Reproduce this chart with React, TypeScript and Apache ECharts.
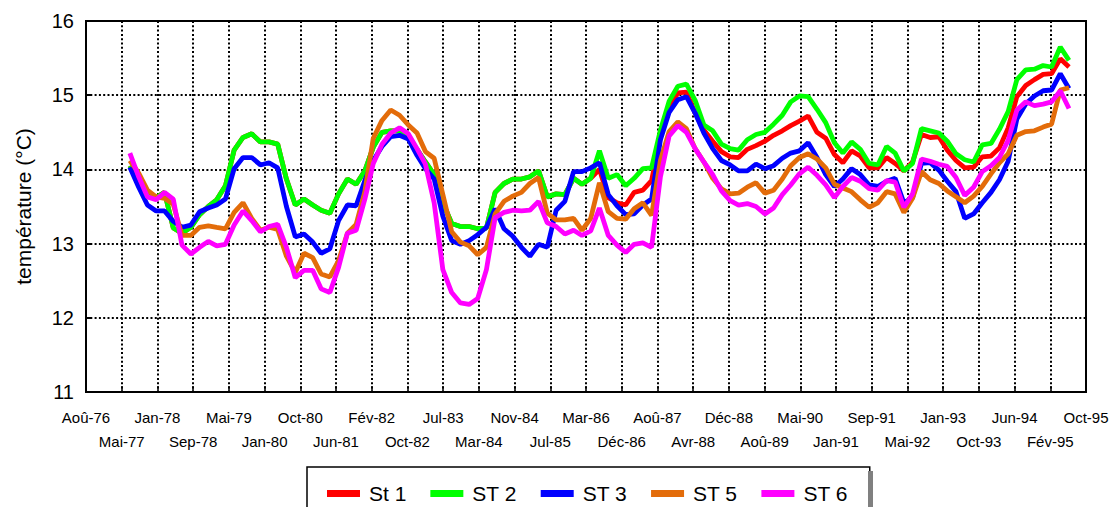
import React, { useEffect, useRef } from 'react';
import * as echarts from 'echarts';

// X axis: Excel date serials, one tick every 250 days from 28000 (28 Aug 1976)
const X_TICK_LABELS = [
  'Aoû-76', 'Mai-77', 'Jan-78', 'Sep-78', 'Mai-79', 'Jan-80', 'Oct-80', 'Jun-81',
  'Fév-82', 'Oct-82', 'Jul-83', 'Mar-84', 'Nov-84', 'Jul-85', 'Mar-86', 'Déc-86',
  'Aoû-87', 'Avr-88', 'Déc-88', 'Aoû-89', 'Mai-90', 'Jan-91', 'Sep-91', 'Mai-92',
  'Jan-93', 'Oct-93', 'Jun-94', 'Fév-95', 'Oct-95',
];
const X_MIN = 28000;
const X_INTERVAL = 250;
const X_MAX = 35000;
const Y_MIN = 11;
const Y_MAX = 16;
const Y_INTERVAL = 1;

// Samples every 2 months, starting July 1977
const START_YEAR = 1977;
const START_MONTH = 7;
const STEP_MONTHS = 2;

const SERIES_NAMES = ['St 1', 'ST 2', 'ST 3', 'ST 5', 'ST 6'];
const SERIES_COLORS = ['#FF0000', '#00FF00', '#0000FF', '#E36C0A', '#FF00FF'];

const ST2 = [
  14.05, 13.85, 13.66, 13.62, 13.69, 13.21, 13.14, 13.22, 13.39, 13.50,
  13.59, 13.78, 14.26, 14.43, 14.48, 14.37, 14.37, 14.34, 13.87, 13.52,
  13.60, 13.52, 13.45, 13.41, 13.67, 13.87, 13.80, 13.98, 14.30, 14.50,
  14.52, 14.52, 14.44, 14.27, 14.10, 13.93, 13.55, 13.27, 13.23, 13.23,
  13.20, 13.21, 13.69, 13.81, 13.87, 13.87, 13.90, 13.98, 13.63, 13.67,
  13.66, 13.88, 13.80, 13.88, 14.25, 13.88, 13.93, 13.78, 13.88, 14.01,
  14.02, 14.53, 14.92, 15.12, 15.15, 14.93, 14.60, 14.52, 14.34, 14.28,
  14.26, 14.40, 14.47, 14.50, 14.61, 14.73, 14.91, 14.99, 14.98, 14.81,
  14.63, 14.36, 14.22, 14.37, 14.27, 14.08, 14.06, 14.31, 14.22, 13.98,
  14.08, 14.55, 14.52, 14.49, 14.38, 14.21, 14.13, 14.10, 14.33, 14.35,
  14.54, 14.78, 15.21, 15.34, 15.35, 15.40, 15.38, 15.65, 15.47,
];

const ST1 = [
  14.05, 13.85, 13.66, 13.62, 13.69, 13.21, 13.14, 13.22, 13.39, 13.50,
  13.59, 13.78, 14.26, 14.43, 14.48, 14.37, 14.37, 14.34, 13.87, 13.52,
  13.60, 13.52, 13.45, 13.41, 13.67, 13.87, 13.80, 13.98, 14.30, 14.50,
  14.52, 14.52, 14.44, 14.27, 14.10, 13.93, 13.55, 13.27, 13.23, 13.23,
  13.20, 13.21, 13.69, 13.81, 13.87, 13.87, 13.90, 13.98, 13.63, 13.67,
  13.66, 13.88, 13.80, 13.88, 14.00, 13.62, 13.55, 13.52, 13.69, 13.72,
  13.85, 14.43, 14.83, 15.03, 15.04, 14.76, 14.53, 14.38, 14.24, 14.17,
  14.16, 14.27, 14.32, 14.38, 14.46, 14.52, 14.59, 14.65, 14.72, 14.50,
  14.42, 14.20, 14.09, 14.25, 14.18, 14.02, 14.02, 14.16, 14.08, 13.98,
  14.10, 14.47, 14.43, 14.44, 14.26, 14.12, 14.02, 14.03, 14.17, 14.18,
  14.29, 14.56, 14.98, 15.13, 15.21, 15.28, 15.29, 15.49, 15.38,
];

const ST3 = [
  14.03, 13.76, 13.52, 13.44, 13.44, 13.30, 13.22, 13.25, 13.43, 13.48,
  13.52, 13.60, 14.01, 14.16, 14.16, 14.06, 14.09, 14.02, 13.50, 13.09,
  13.13, 13.02, 12.87, 12.93, 13.31, 13.52, 13.51, 13.85, 14.12, 14.31,
  14.44, 14.46, 14.41, 14.19, 14.01, 13.87, 13.37, 13.04, 12.99, 13.04,
  13.12, 13.22, 13.47, 13.20, 13.10, 12.95, 12.83, 12.99, 12.95, 13.45,
  13.57, 13.97, 13.97, 14.02, 14.09, 13.66, 13.51, 13.39, 13.40, 13.52,
  13.60, 14.40, 14.77, 14.94, 14.98, 14.76, 14.49, 14.28, 14.12, 14.06,
  13.98, 13.98, 14.07, 14.01, 14.05, 14.15, 14.22, 14.25, 14.36, 14.16,
  13.93, 13.77, 13.87, 14.01, 13.93, 13.79, 13.77, 13.84, 13.88, 13.55,
  13.62, 14.08, 14.09, 13.99, 13.84, 13.70, 13.34, 13.40, 13.55, 13.69,
  13.86, 14.11, 14.68, 14.88, 14.99, 15.06, 15.07, 15.29, 15.09,
];

const ST5 = [
  14.12, 13.95, 13.72, 13.63, 13.61, 13.53, 13.11, 13.11, 13.22, 13.24,
  13.22, 13.20, 13.42, 13.55, 13.34, 13.18, 13.22, 13.19, 12.83, 12.61,
  12.87, 12.81, 12.59, 12.55, 12.77, 13.14, 13.26, 13.70, 14.42, 14.66,
  14.80, 14.73, 14.60, 14.49, 14.24, 14.15, 13.66, 13.16, 13.02, 12.97,
  12.85, 12.95, 13.40, 13.57, 13.64, 13.69, 13.81, 13.89, 13.41, 13.32,
  13.32, 13.34, 13.18, 13.34, 13.82, 13.43, 13.34, 13.33, 13.47, 13.55,
  13.38, 14.12, 14.51, 14.64, 14.55, 14.28, 14.10, 13.88, 13.74, 13.67,
  13.68, 13.76, 13.82, 13.68, 13.72, 13.87, 14.05, 14.16, 14.21, 14.14,
  14.02, 13.80, 13.75, 13.70, 13.59, 13.49, 13.55, 13.70, 13.67, 13.42,
  13.61, 13.97, 13.86, 13.81, 13.71, 13.63, 13.55, 13.64, 13.77, 13.94,
  14.09, 14.21, 14.46, 14.51, 14.52, 14.57, 14.61, 15.07, 15.10,
];

const ST6 = [
  14.22, 13.90, 13.63, 13.59, 13.69, 13.60, 12.98, 12.86, 12.95, 13.03,
  12.97, 12.99, 13.25, 13.44, 13.31, 13.16, 13.23, 13.26, 12.95, 12.54,
  12.64, 12.64, 12.39, 12.34, 12.68, 13.14, 13.18, 13.60, 14.08, 14.34,
  14.49, 14.56, 14.48, 14.28, 14.07, 13.55, 12.65, 12.34, 12.20, 12.18,
  12.26, 12.65, 13.35, 13.42, 13.45, 13.44, 13.45, 13.57, 13.28, 13.23,
  13.13, 13.18, 13.11, 13.17, 13.48, 13.11, 12.98, 12.88, 12.99, 13.01,
  12.95, 13.90, 14.45, 14.59, 14.50, 14.28, 14.10, 13.93, 13.71, 13.58,
  13.52, 13.54, 13.50, 13.40, 13.48, 13.66, 13.79, 13.94, 14.03, 13.92,
  13.79, 13.62, 13.77, 13.89, 13.84, 13.74, 13.72, 13.85, 13.83, 13.49,
  13.67, 14.14, 14.11, 14.07, 14.04, 13.89, 13.65, 13.76, 13.97, 14.05,
  14.16, 14.39, 14.80, 14.91, 14.86, 14.88, 14.91, 15.06, 14.82,
];

const SERIES_VALUES = [ST1, ST2, ST3, ST5, ST6];

const FONT = "'Liberation Sans', Arial, sans-serif";

function sampleSerial(i: number): number {
  const total = START_MONTH - 1 + i * STEP_MONTHS;
  const y = START_YEAR + Math.floor(total / 12);
  const m = total % 12;
  return (Date.UTC(y, m, 1) - Date.UTC(1899, 11, 30)) / 86400000;
}

const dotted = { color: '#000', width: 2, type: [2, 2.3] as number[] };

function tickIndex(v: number): number {
  return Math.round((v - X_MIN) / X_INTERVAL);
}

export default function App() {
  const ref = useRef<HTMLDivElement>(null);

  useEffect(() => {
    if (!ref.current) return;
    const chart = echarts.init(ref.current, undefined, { renderer: 'svg' });

    const series = SERIES_NAMES.map((name, s) => ({
      name,
      type: 'line',
      xAxisIndex: 0,
      showSymbol: false,
      symbol: 'none',
      color: SERIES_COLORS[s],
      lineStyle: { color: SERIES_COLORS[s], width: 4.8 },
      data: SERIES_VALUES[s].map((v, i) => [sampleSerial(i), v]),
    }));

    const labelBase = {
      color: '#000',
      fontSize: 15,
      fontFamily: FONT,
      showMinLabel: true,
      showMaxLabel: true,
    };

    chart.setOption({
      animation: false,
      backgroundColor: '#fff',
      textStyle: { fontFamily: FONT },
      grid: {
        left: 86,
        right: 32,
        top: 21,
        bottom: 115,
        show: true,
        borderColor: '#000',
        borderWidth: 2,
        containLabel: false,
        outerBoundsMode: 'none',
      },
      xAxis: [
        {
          type: 'value',
          min: X_MIN,
          max: X_MAX,
          interval: X_INTERVAL,
          position: 'bottom',
          axisLine: { show: true, lineStyle: { color: '#000', width: 2 } },
          axisTick: { show: true, inside: true, length: 6, lineStyle: { color: '#000', width: 1.5 } },
          splitLine: { show: true, lineStyle: dotted },
          axisLabel: {
            ...labelBase,
            margin: 18,
            formatter: (v: number) => {
              const i = tickIndex(v);
              return i % 2 === 0 ? X_TICK_LABELS[i] ?? '' : '';
            },
          },
        },
        {
          type: 'value',
          min: X_MIN,
          max: X_MAX,
          interval: X_INTERVAL,
          position: 'bottom',
          offset: 0,
          axisLine: { show: false },
          axisTick: { show: false },
          splitLine: { show: false },
          axisLabel: {
            ...labelBase,
            margin: 42,
            formatter: (v: number) => {
              const i = tickIndex(v);
              return i % 2 === 1 ? X_TICK_LABELS[i] ?? '' : '';
            },
          },
        },
      ],
      yAxis: {
        type: 'value',
        min: Y_MIN,
        max: Y_MAX,
        interval: Y_INTERVAL,
        name: 'température (°C)',
        nameLocation: 'middle',
        nameGap: 52,
        nameTextStyle: { color: '#000', fontSize: 21, fontFamily: FONT },
        axisLine: { show: true, lineStyle: { color: '#000', width: 2 } },
        axisTick: { show: true, inside: true, length: 6, lineStyle: { color: '#000', width: 2 } },
        splitLine: { show: true, lineStyle: dotted },
        axisLabel: { color: '#000', fontSize: 20, fontFamily: FONT, margin: 12 },
      },
      legend: {
        data: SERIES_NAMES,
        left: 307,
        top: 467,
        orient: 'horizontal',
        padding: [16, 22, 20, 20],
        itemWidth: 33,
        itemHeight: 7,
        itemGap: 24,
        icon: 'rect',
        backgroundColor: '#fff',
        borderColor: '#000',
        borderWidth: 1.5,
        textStyle: { color: '#000', fontSize: 21, fontFamily: FONT, padding: [0, 0, 0, 4] },
      },
      graphic: [
        {
          type: 'rect',
          z: 100,
          shape: { x: 868, y: 471, width: 5, height: 40 },
          style: { fill: '#808080' },
        },
      ],
      series,
    });

    return () => chart.dispose();
  }, []);

  return (
    <div
      ref={ref}
      style={{ position: 'absolute', left: 0, top: 0, width: 1118, height: 507 }}
    />
  );
}
